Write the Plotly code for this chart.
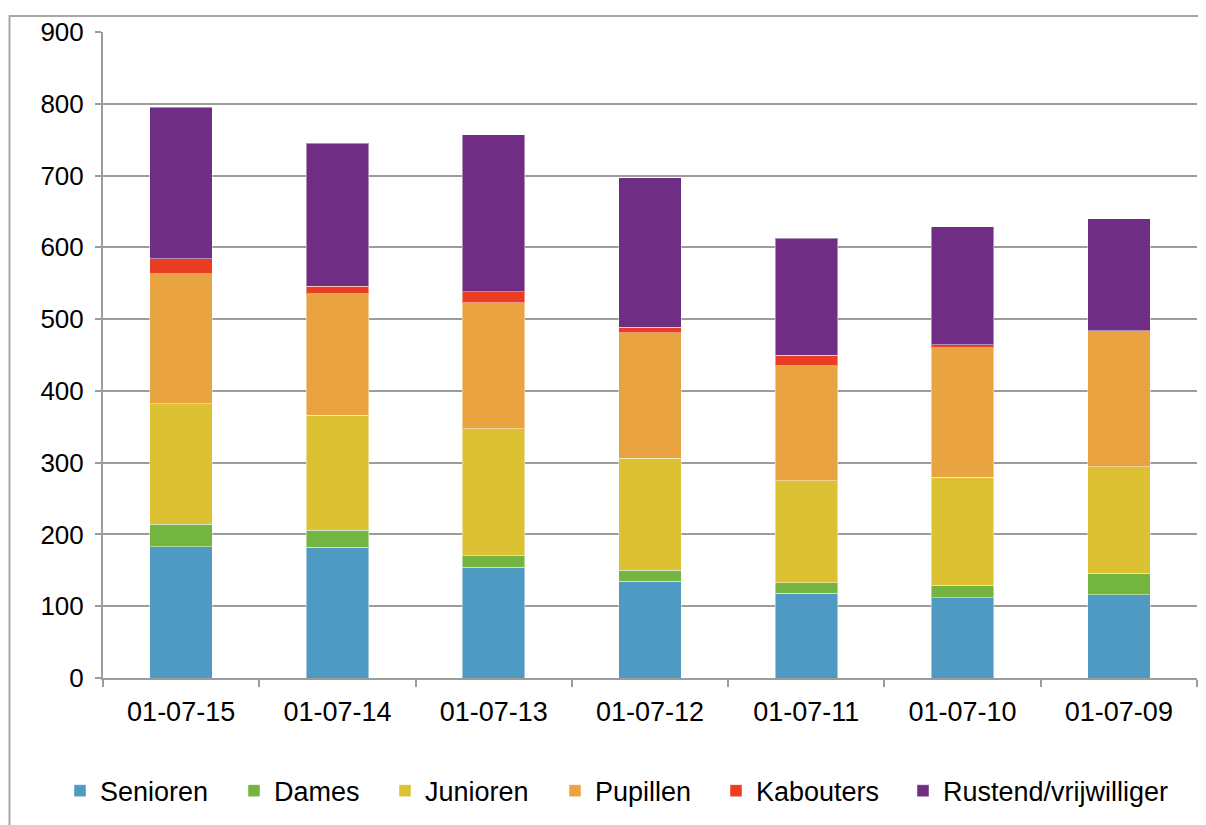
import plotly.graph_objects as go

categories = ["01-07-15", "01-07-14", "01-07-13", "01-07-12", "01-07-11", "01-07-10", "01-07-09"]
senioren = [183, 182, 154, 135, 118, 112, 116]
dames = [31, 24, 16, 15, 15, 17, 30]
junioren = [168, 160, 177, 156, 142, 151, 148]
pupillen = [181, 169, 176, 175, 160, 180, 190]
kabouters = [21, 11, 15, 8, 15, 4, 0]
rustend = [211, 199, 219, 208, 163, 165, 156]

series = [
    ("Senioren", senioren, "#4F9AC2"),
    ("Dames", dames, "#74B441"),
    ("Junioren", junioren, "#DCC232"),
    ("Pupillen", pupillen, "#E9A441"),
    ("Kabouters", kabouters, "#E93E24"),
    ("Rustend/vrijwilliger", rustend, "#702D84"),
]

FONT = "Liberation Sans, Arial, Helvetica, sans-serif"
GRID = "#9c9c9c"

# page body has a small margin; compensate so the plot lands where the reference has it
W, H = 1198, 817
ML, MR, MT, MB = 95, 9, 20, 146
PW = W - ML - MR
PH = H - MT - MB
PLOT_LEFT_PX = 103
PLOT_BOTTOM_PX = 680

def px_to_paper_x(px):
    return (px - PLOT_LEFT_PX) / PW

def px_to_paper_y(py):
    return (PLOT_BOTTOM_PX - py) / PH

legend_text_x = [100, 274, 425, 595, 756, 943]

fig = go.Figure()
layout_legends = {}
for i, (name, vals, color) in enumerate(series):
    lname = "legend" if i == 0 else f"legend{i+1}"
    fig.add_trace(go.Bar(
        name=name, x=categories, y=vals, legend=lname,
        marker=dict(color=color, line=dict(color="rgba(255,255,255,0.45)", width=1)),
    ))
    layout_legends[lname] = dict(
        orientation="h",
        x=px_to_paper_x(legend_text_x[i] - 40), xanchor="left",
        y=px_to_paper_y(794), yanchor="middle",
        font=dict(family=FONT, size=27, color="black"),
        bgcolor="rgba(0,0,0,0)", borderwidth=0,
    )

fig.update_layout(
    barmode="stack",
    bargap=0.6,
    width=W, height=H,
    margin=dict(l=ML, r=MR, t=MT, b=MB),
    paper_bgcolor="white", plot_bgcolor="white",
    font=dict(family=FONT, size=26, color="black"),
    showlegend=True,
    xaxis=dict(
        type="category",
        showline=True, linecolor=GRID, linewidth=2,
        ticks="outside", tickson="boundaries", ticklen=7, tickcolor=GRID, tickwidth=2,
        showgrid=False,
        tickfont=dict(family=FONT, size=27, color="black"),
        ticklabelstandoff=9,
    ),
    yaxis=dict(
        range=[0, 900], tickvals=[0, 100, 200, 300, 400, 500, 600, 700, 800, 900],
        showline=True, linecolor=GRID, linewidth=2,
        ticks="outside", ticklen=6, tickcolor=GRID, tickwidth=2,
        showgrid=True, gridcolor=GRID, gridwidth=2,
        zeroline=False,
        tickfont=dict(family=FONT, size=26, color="black"),
        ticklabelstandoff=6,
    ),
    shapes=[dict(
        type="rect", xref="paper", yref="paper",
        x0=px_to_paper_x(9.5), x1=1.2, y0=-0.6, y1=px_to_paper_y(13),
        line=dict(color="#a8a8a8", width=2), fillcolor="rgba(0,0,0,0)", layer="below",
    )],
    **layout_legends,
)

fig.write_html("out.html")
